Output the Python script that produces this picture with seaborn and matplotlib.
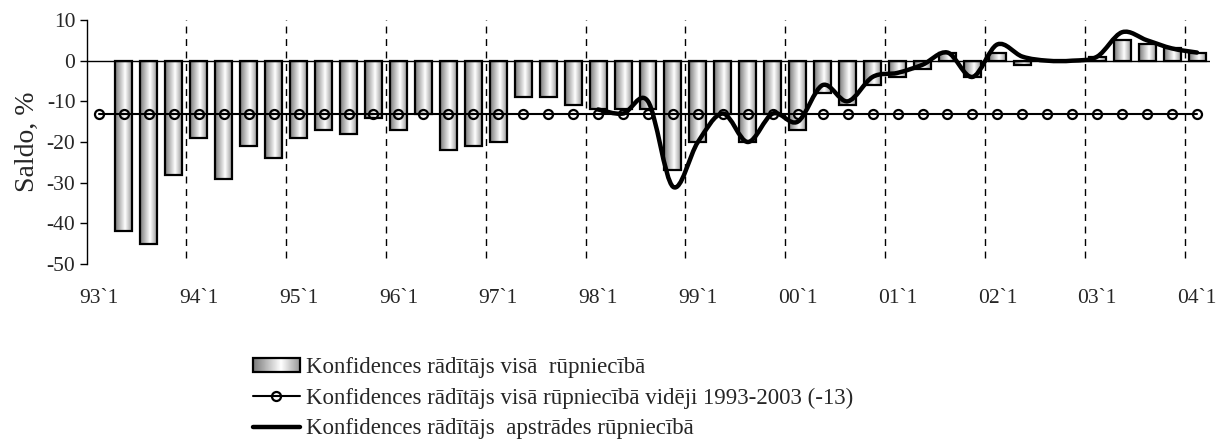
import numpy as np
import pandas as pd
import seaborn as sns
import matplotlib.pyplot as plt
from matplotlib.path import Path
from matplotlib.patches import PathPatch, Rectangle
from matplotlib.lines import Line2D
from matplotlib.colors import LinearSegmentedColormap
from matplotlib.image import BboxImage
from matplotlib.transforms import Bbox, TransformedBbox
from matplotlib.legend_handler import HandlerPatch

# data
quarters = ["%02d`%d" % (y % 100, q) for y in range(1993, 2004) for q in range(1, 5)] + ["04`1"]
visa = [np.nan, -42, -45, -28, -19, -29, -21, -24, -19, -17, -18, -14, -17, -13, -22, -21,
        -20, -9, -9, -11, -12, -12, -12, -27, -20, -13, -20, -13, -17, -8, -11, -6,
        -4, -2, 2, -4, 2, -1, 0, 0, 1, 5, 4, 3, 2]
videji = [-13] * 45
apstr_start = 20
apstrades = [-12, -13, -10, -31, -20, -13, -20, -13, -15, -6, -10, -4, -3, -1, 2, -4,
             4, 1, 0, 0, 1, 7, 5, 3, 2]

lbl_bar = "Konfidences rādītājs visā  rūpniecībā"
lbl_mean = "Konfidences rādītājs visā rūpniecībā vidēji 1993-2003 (-13)"
lbl_line = "Konfidences rādītājs  apstrādes rūpniecībā"

sns.set_style("white")
plt.rcParams['font.family'] = ['Liberation Serif', 'DejaVu Serif']
plt.rcParams['axes.unicode_minus'] = False

df = pd.DataFrame({"q": quarters, "visa": visa, "videji": videji})
df["i"] = np.arange(len(df))

fig = plt.figure(figsize=(12.21, 4.48), dpi=100)
ax = fig.add_axes([86.5 / 1221, 1 - 264 / 448, 1123 / 1221, 244 / 448])

sns.barplot(data=df, x="i", y="visa", native_scale=True, width=0.68,
            facecolor="none", edgecolor="black", linewidth=1.6, ax=ax, zorder=2)

grad_cmap = LinearSegmentedColormap.from_list(
    "g", [(0, "#7a7a7a"), (0.6, "#ffffff"), (1, "#9a9a9a")])
grad = np.linspace(0, 1, 64).reshape(1, -1)
for p in list(ax.patches):
    x0, y0 = p.get_x(), p.get_y()
    w, h = p.get_width(), p.get_height()
    if np.isnan(h) or h == 0:
        continue
    im = ax.imshow(grad, extent=[x0, x0 + w, min(y0, y0 + h), max(y0, y0 + h)],
                   aspect="auto", cmap=grad_cmap, zorder=1.5, interpolation="bilinear")
    im.set_clip_path(p)

# year separators
for k in range(3, 44, 4):
    ax.plot([k + 0.5, k + 0.5], [-48.5, 10], color="black", lw=1, ls=(0, (5, 4)), zorder=1)

ax.axhline(0, color="black", lw=1, zorder=3)

sns.lineplot(data=df, x="i", y="videji", color="black", lw=1.5, marker="o",
             markersize=6.5, markerfacecolor="none", markeredgecolor="black",
             markeredgewidth=1.6, ax=ax, zorder=4)

# smoothed line (bezier through the points, like the spreadsheet smoothing)
px = np.arange(apstr_start, apstr_start + len(apstrades), dtype=float)
py = np.array(apstrades, dtype=float)
pts = np.column_stack([px, py])
verts = [pts[0]]
codes = [Path.MOVETO]
n = len(pts)
for i in range(n - 1):
    pm = pts[i - 1] if i > 0 else pts[i]
    pn2 = pts[i + 2] if i + 2 < n else pts[i + 1]
    c1 = pts[i] + (pts[i + 1] - pm) / 6
    c2 = pts[i + 1] - (pn2 - pts[i]) / 6
    verts += [c1, c2, pts[i + 1]]
    codes += [Path.CURVE4] * 3
ax.add_patch(PathPatch(Path(verts, codes), fill=False, edgecolor="black", lw=3.2,
                       capstyle="round", joinstyle="round", zorder=5))

ax.set_xlim(-0.5, 44.5)
ax.set_ylim(-50, 10)
ax.set_yticks(range(-50, 11, 10))
ax.set_xticks(range(0, 45, 4))
ax.set_xticklabels(quarters[::4])
ax.set_xlabel("")
ax.set_ylabel("Saldo, %", fontsize=20, labelpad=5)
for s in ["top", "right", "bottom"]:
    ax.spines[s].set_visible(False)
ax.spines["left"].set_color("black")
ax.spines["left"].set_linewidth(1)
ax.tick_params(axis="y", left=True, length=5, width=1, color="black", labelsize=15.5, pad=3)
ax.tick_params(axis="x", bottom=False, length=0, labelsize=15.5, pad=18)


class GradHandler(HandlerPatch):
    def create_artists(self, legend, orig_handle, xdescent, ydescent, width, height,
                       fontsize, trans):
        bb = TransformedBbox(Bbox.from_bounds(-xdescent, -ydescent, width, height), trans)
        img = BboxImage(bb, cmap=grad_cmap, interpolation="bilinear")
        img.set_data(grad)
        rect = Rectangle((-xdescent, -ydescent), width, height, facecolor="none",
                         edgecolor="black", lw=1.6)
        rect.set_transform(trans)
        return [img, rect]


h_bar = Rectangle((0, 0), 1, 1, facecolor="none", edgecolor="black")
h_mean = Line2D([], [], color="black", lw=1.5, marker="o", markersize=6.5,
                markerfacecolor="none", markeredgewidth=1.6)
h_line = Line2D([], [], color="black", lw=3.2)
fig.legend([h_bar, h_mean, h_line], [lbl_bar, lbl_mean, lbl_line],
           handler_map={h_bar: GradHandler()},
           loc="upper left", bbox_to_anchor=(253 / 1221, 1 - 357 / 448),
           frameon=False, fontsize=16.5, handlelength=2.05, handleheight=0.55,
           handletextpad=0.25, labelspacing=0.42, borderaxespad=0, borderpad=0)

fig.savefig("out.png", dpi=100)
plt.close()
